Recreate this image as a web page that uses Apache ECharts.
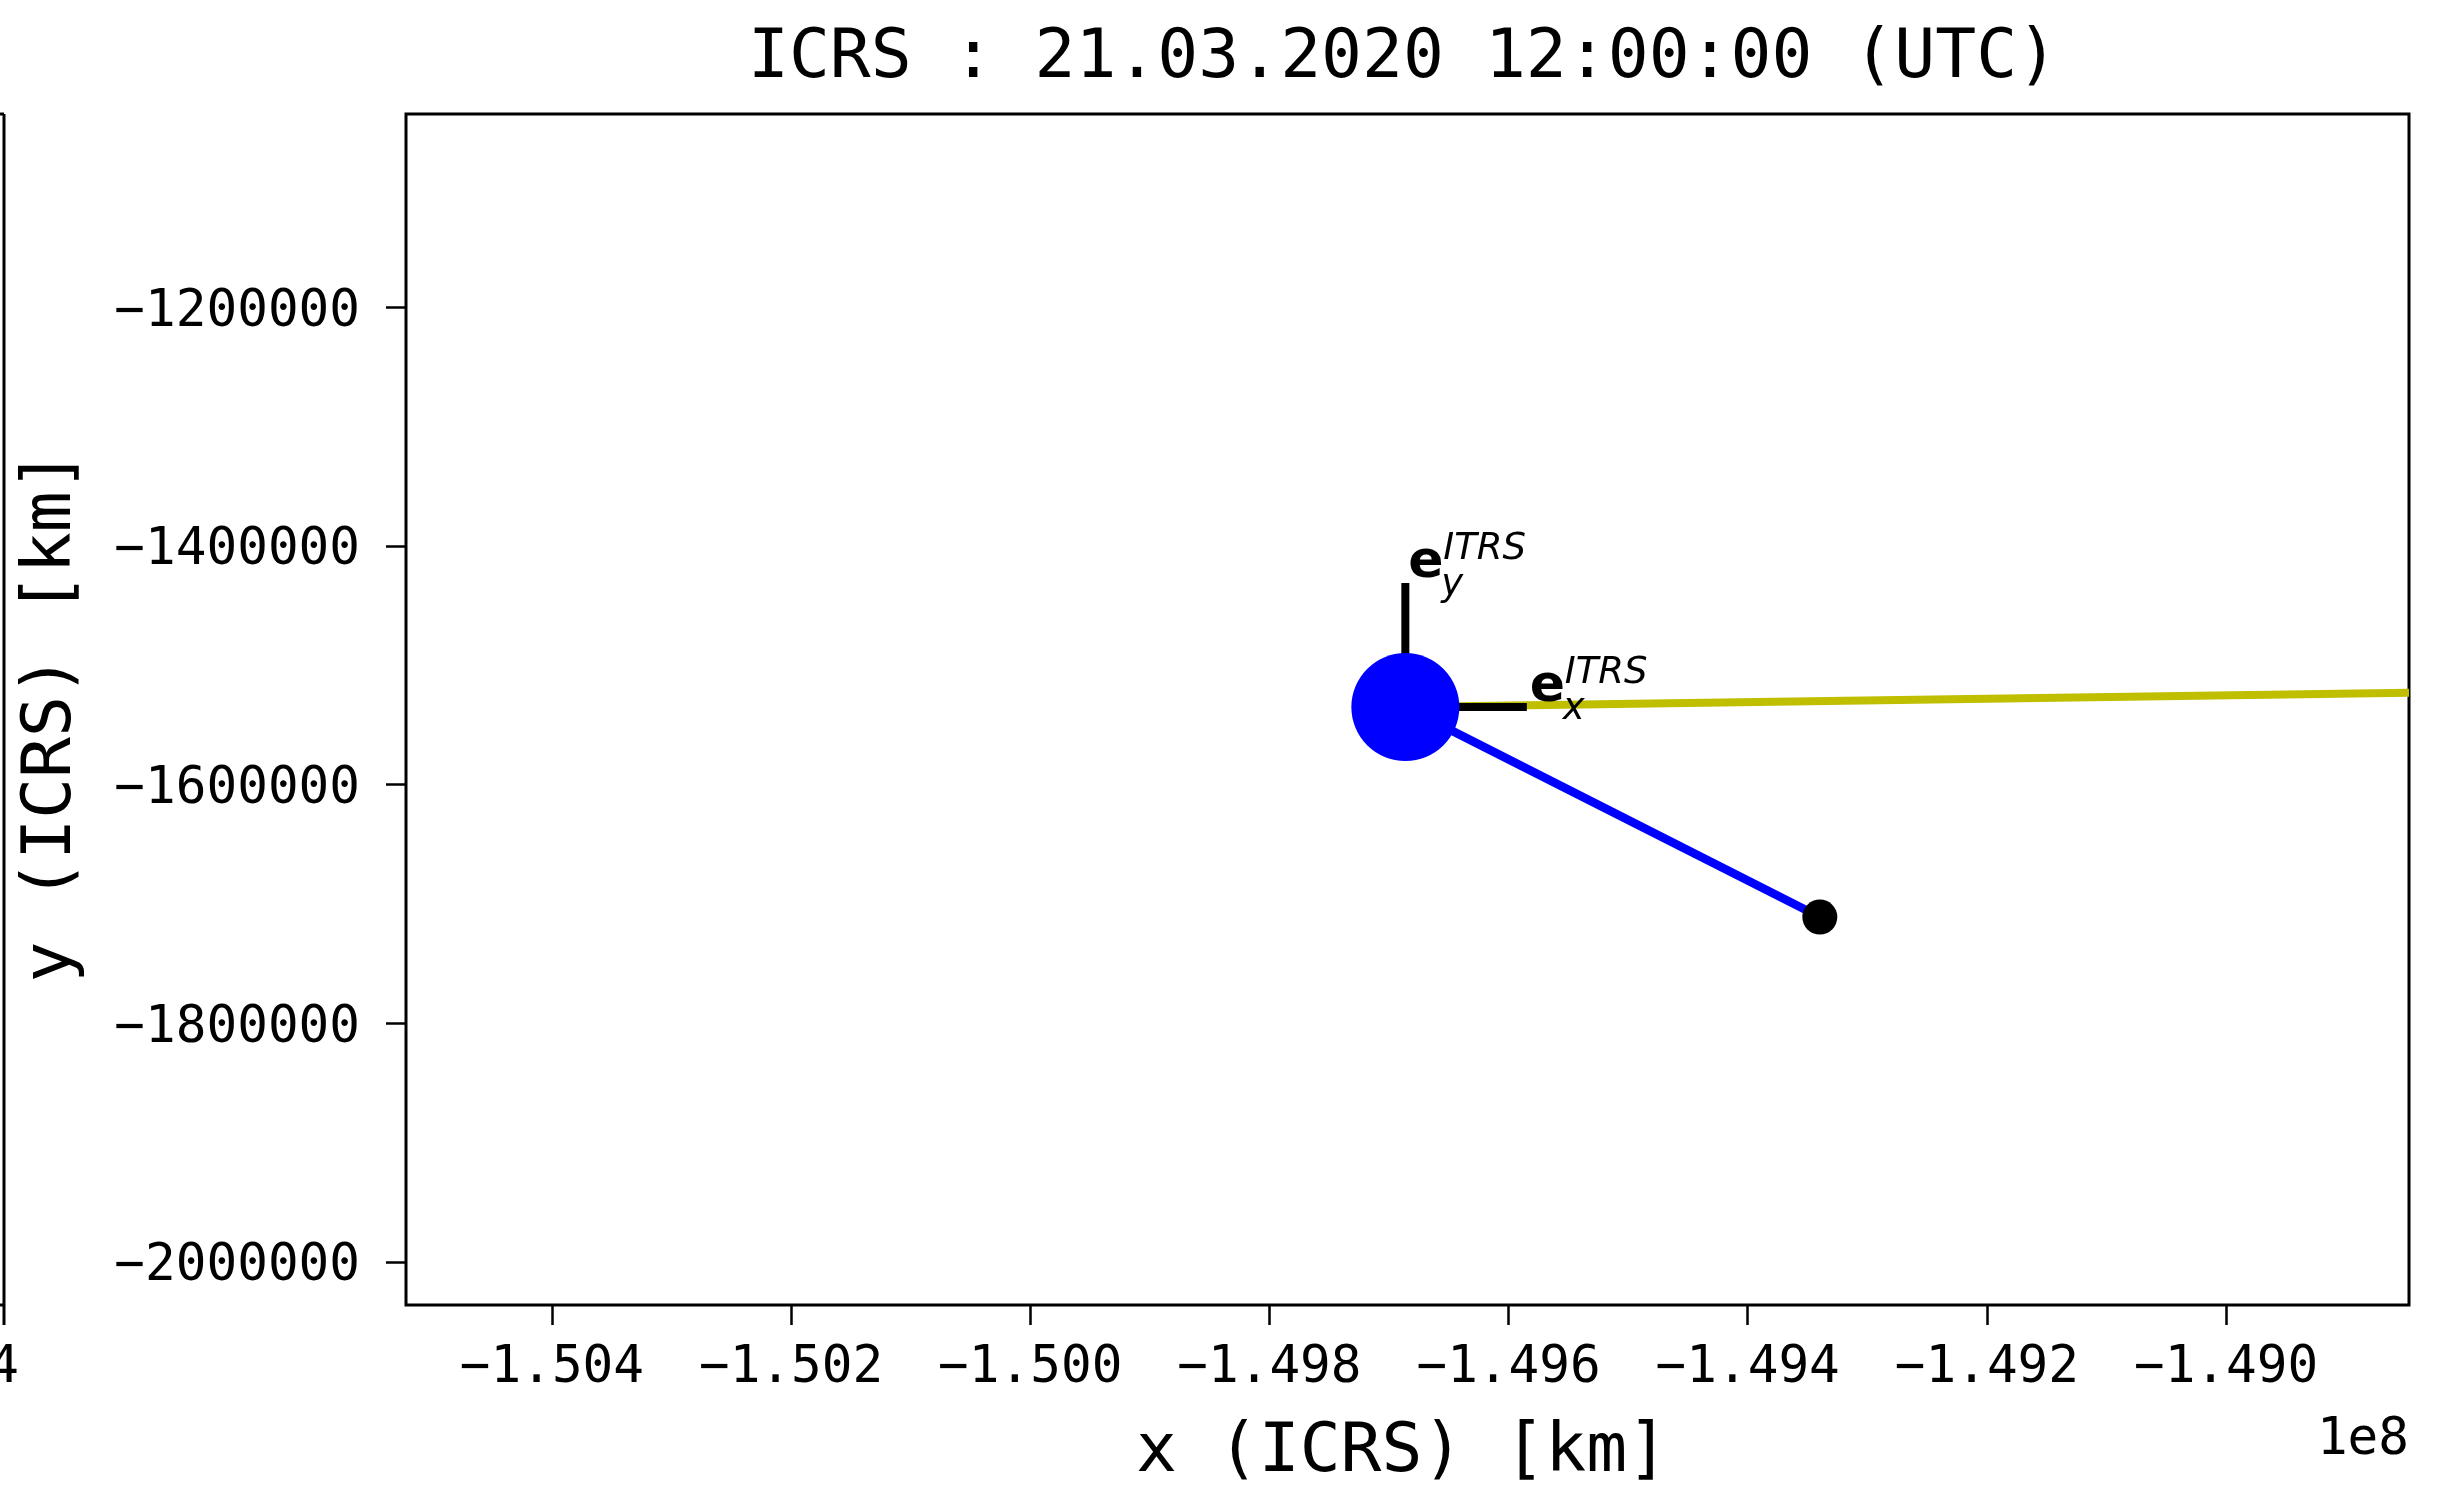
<!DOCTYPE html>
<html>
<head>
<meta charset="utf-8">
<script src="https://cdn.jsdelivr.net/npm/echarts@6/dist/echarts.min.js"></script>
<style>
html,body{margin:0;padding:0;background:#fff;}
#chart{width:2458px;height:1499px;}
</style>
</head>
<body>
<div id="chart"></div>
<script>
// ---- data (km, ICRS) ----
const titleText = 'ICRS : 21.03.2020 12:00:00 (UTC)';
const xName = 'x (ICRS) [km]';
const yName = 'y (ICRS) [km]';
const xOffsetText = '1e8';

const xRange = [-150522000, -148847000];
const yRange = [-2036000, -1038000];

const xTickValues = [-150400000, -150200000, -150000000, -149800000, -149600000, -149400000, -149200000, -149000000];
const xTickLabels = ['\u22121.504', '\u22121.502', '\u22121.500', '\u22121.498', '\u22121.496', '\u22121.494', '\u22121.492', '\u22121.490'];
const yTickValues = [-2000000, -1800000, -1600000, -1400000, -1200000];
const yTickLabels = ['\u22122000000', '\u22121800000', '\u22121600000', '\u22121400000', '\u22121200000'];

const earthPos = [-149686300, -1535000];
const moonPos = [-149339700, -1710900];
const exTip = [-149584700, -1535000];
const eyTip = [-149686300, -1431100];
const sunLineEnd = [-148847000, -1523000];

const vecTips = [exTip, eyTip];
const vecSubs = ['x', 'y'];
const vecSup = 'ITRS';

// ---- chart ----
const chart = echarts.init(document.getElementById('chart'), null, {renderer: 'canvas'});
const mono = '"DejaVu Sans Mono", monospace';
const sans = '"DejaVu Sans", sans-serif';

function lookup(vals, labels) {
  return function (v) {
    for (let i = 0; i < vals.length; i++) {
      if (Math.abs(vals[i] - v) < 1) return labels[i];
    }
    return '';
  };
}

const option = {
  animation: false,
  backgroundColor: '#ffffff',
  title: {
    text: titleText,
    left: 1403,
    top: 25,
    padding: 0,
    textAlign: 'center',
    textStyle: {fontFamily: mono, fontSize: 68, fontWeight: 'normal', color: '#000'}
  },
  grid: {
    left: 406, right: 49, top: 114, bottom: 194,
    show: true, borderColor: '#000', borderWidth: 3, backgroundColor: 'transparent'
  },
  xAxis: {
    type: 'value',
    min: xRange[0], max: xRange[1],
    axisLine: {show: false},
    splitLine: {show: false},
    axisTick: {show: true, customValues: xTickValues, length: 20, lineStyle: {color: '#000', width: 2.5}},
    axisLabel: {
      customValues: xTickValues,
      formatter: lookup(xTickValues, xTickLabels),
      margin: 38, fontFamily: mono, fontSize: 51, color: '#000'
    },
    name: xName,
    nameLocation: 'middle',
    nameGap: 114,
    nameTextStyle: {fontFamily: mono, fontSize: 68, color: '#000', padding: [0, 11, 0, 0]}
  },
  yAxis: {
    type: 'value',
    min: yRange[0], max: yRange[1],
    axisLine: {show: false},
    splitLine: {show: false},
    axisTick: {show: true, customValues: yTickValues, length: 20, lineStyle: {color: '#000', width: 2.5}},
    axisLabel: {
      customValues: yTickValues,
      formatter: lookup(yTickValues, yTickLabels),
      margin: 46, fontFamily: mono, fontSize: 51, color: '#000',
      verticalAlign: 'top', lineHeight: 10
    },
    name: yName,
    nameLocation: 'middle',
    nameGap: 320,
    nameTextStyle: {fontFamily: mono, fontSize: 68, color: '#000', padding: [0, 14, 0, 0]}
  },
  series: [
    {
      type: 'line', z: 2, symbol: 'none', silent: true, clip: true,
      data: [earthPos, sunLineEnd],
      lineStyle: {color: '#bfbf00', width: 8}
    },
    {
      type: 'line', z: 3, symbol: 'none', silent: true, clip: true,
      data: [earthPos, moonPos],
      lineStyle: {color: '#0000ff', width: 8.5}
    },
    {
      type: 'line', z: 4, symbol: 'none', silent: true, clip: true,
      data: [earthPos, exTip],
      lineStyle: {color: '#000000', width: 8, cap: 'butt'}
    },
    {
      type: 'line', z: 4, symbol: 'none', silent: true, clip: true,
      data: [earthPos, eyTip],
      lineStyle: {color: '#000000', width: 8, cap: 'butt'}
    },
    {
      type: 'scatter', z: 5, silent: true,
      data: [earthPos],
      symbol: 'circle', symbolSize: 108,
      itemStyle: {color: '#0000ff', opacity: 1}
    },
    {
      type: 'scatter', z: 6, silent: true,
      data: [moonPos],
      symbol: 'circle', symbolSize: 35,
      itemStyle: {color: '#000000', opacity: 1}
    },
    {
      type: 'custom', z: 7, silent: true,
      data: vecTips,
      renderItem: function (params, api) {
        const p = api.coord([api.value(0), api.value(1)]);
        const sub = vecSubs[params.dataIndex];
        return {
          type: 'group',
          children: [
            {type: 'text', x: p[0] + 3, y: p[1] - 20,
              style: {text: 'e', font: 'bold 52px ' + sans, fill: '#000', align: 'left', verticalAlign: 'middle'}},
            {type: 'text', x: p[0] + 38, y: p[1] - 34,
              style: {text: vecSup, font: 'italic 37px ' + sans, fill: '#000', align: 'left', verticalAlign: 'middle'}},
            {type: 'text', x: p[0] + 36, y: p[1] + 2,
              style: {text: sub, font: 'italic 37px ' + sans, fill: '#000', align: 'left', verticalAlign: 'middle'}}
          ]
        };
      }
    }
  ],
  graphic: [
    // edge of the neighbouring (cropped) subplot at the far left
    {type: 'line', shape: {x1: 4, y1: 114, x2: 4, y2: 1325}, style: {stroke: '#000', lineWidth: 3}},
    {type: 'line', shape: {x1: 0, y1: 114, x2: 4, y2: 114}, style: {stroke: '#000', lineWidth: 3}},
    {type: 'line', shape: {x1: 0, y1: 1305, x2: 4, y2: 1305}, style: {stroke: '#000', lineWidth: 3}},
    {type: 'text', x: 19, y: 1369, style: {text: '4', font: '51px ' + mono, fill: '#000', align: 'right', verticalAlign: 'middle'}},
    // axis offset text
    {type: 'text', x: 2409, y: 1441, style: {text: xOffsetText, font: '51px ' + mono, fill: '#000', align: 'right', verticalAlign: 'middle'}}
  ]
};
chart.setOption(option);
</script>
</body>
</html>
